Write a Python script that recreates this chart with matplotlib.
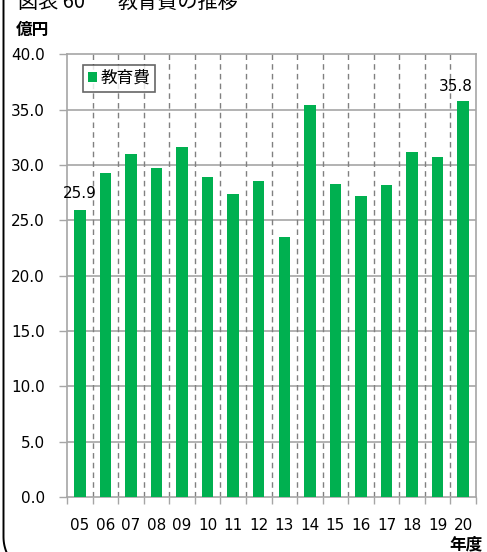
import matplotlib
matplotlib.use("Agg")
import numpy as np
import matplotlib.pyplot as plt
from matplotlib.path import Path
from matplotlib.patches import PathPatch

plt.rcParams['font.family'] = ['DejaVu Sans', 'Noto Sans CJK JP']

years = ["05", "06", "07", "08", "09", "10", "11", "12",
         "13", "14", "15", "16", "17", "18", "19", "20"]
education = [25.9, 29.3, 31.0, 29.7, 31.6, 28.9, 27.4, 28.6,
             23.5, 35.4, 28.3, 27.2, 28.2, 31.2, 30.7, 35.8]
series_name = "教育費"
title_no = "図表 60"
title = "教育費の推移"
y_unit = "億円"
x_unit = "年度"
yticks = [0, 5, 10, 15, 20, 25, 30, 35, 40]

GREEN = "#00B050"
GRID = "#A6A6A6"
CJK = ['Noto Sans CJK JP', 'DejaVu Sans']

W, H = 487, 552
fig = plt.figure(figsize=(W / 100, H / 100), dpi=100)

# background layer in pixel units for the outer rounded frame
bg = fig.add_axes([0, 0, 1, 1])
bg.set_xlim(0, W)
bg.set_ylim(H, 0)
bg.axis("off")
fx, fy_bottom, rad = 3.5, 577, 40
t = np.linspace(0, np.pi / 2, 30)
corner = np.column_stack([fx + rad - rad * np.cos(t), fy_bottom - rad + rad * np.sin(t)])
verts = np.vstack([[fx, -10], corner, [W + 10, fy_bottom]])
bg.add_patch(PathPatch(Path(verts), fill=False, edgecolor="black", linewidth=1.4))

ax = fig.add_axes([67 / W, 1 - 497 / H, (476 - 67) / W, (497 - 54.4) / H])
x = list(range(len(years)))
ax.bar(x, education, width=0.45, color=GREEN, zorder=3, label=series_name)

ax.set_xlim(-0.5, len(years) - 0.5)
ax.set_ylim(0, 40)
ax.set_yticks(yticks)
ax.set_yticklabels([f"{v:.1f}" for v in yticks], fontsize=11)
ax.set_xticks(x)
ax.set_xticklabels(years, fontsize=11)
ax.tick_params(axis="x", length=0, pad=15)
ax.tick_params(axis="y", length=6, color=GRID, width=1, pad=10)

# minor ticks on the category boundaries
ax.set_xticks([i - 0.5 for i in range(len(years) + 1)], minor=True)
ax.tick_params(axis="x", which="minor", length=5, color=GRID, width=1)

# horizontal solid grid and vertical dashed separators
for v in yticks[1:-1]:
    ax.axhline(v, color=GRID, linewidth=1.2, zorder=1)
for i in range(1, len(years)):
    ax.axvline(i - 0.5, color="#808080", linewidth=1, linestyle=(0, (4, 3)), zorder=1)

for side in ["left", "bottom", "top", "right"]:
    ax.spines[side].set_color(GRID)
    ax.spines[side].set_linewidth(1.2)

# value labels on first and last bars
label_pos = {0: (0.0, 1.5), len(years) - 1: (-0.3, 1.3)}
for idx, (dx, dy) in label_pos.items():
    ax.text(x[idx] + dx, education[idx] + dy, f"{education[idx]:.1f}",
            ha="center", va="center", fontsize=11, zorder=4)

leg = ax.legend(loc="upper left", bbox_to_anchor=(0.039, 0.976),
                prop={"family": CJK, "size": 12}, frameon=True, fancybox=False,
                edgecolor="#404040", handlelength=0.55, handleheight=0.55,
                handletextpad=0.2, borderpad=0.3, borderaxespad=0)
leg.get_frame().set_linewidth(1.2)

fig.text(18 / W, 1 - 2 / H, title_no, family=CJK, fontsize=14.5, ha="left", va="center")
fig.text(118 / W, 1 - 2 / H, title, family=CJK, fontsize=14.5, ha="left", va="center")
fig.text(16 / W, 1 - 30 / H, y_unit, family=CJK, fontsize=12, fontweight="bold",
         ha="left", va="center")
fig.text(483 / W, 1 - 544 / H, x_unit, family=CJK, fontsize=12, fontweight="bold",
         ha="right", va="center")

fig.savefig("out.png", dpi=100)
